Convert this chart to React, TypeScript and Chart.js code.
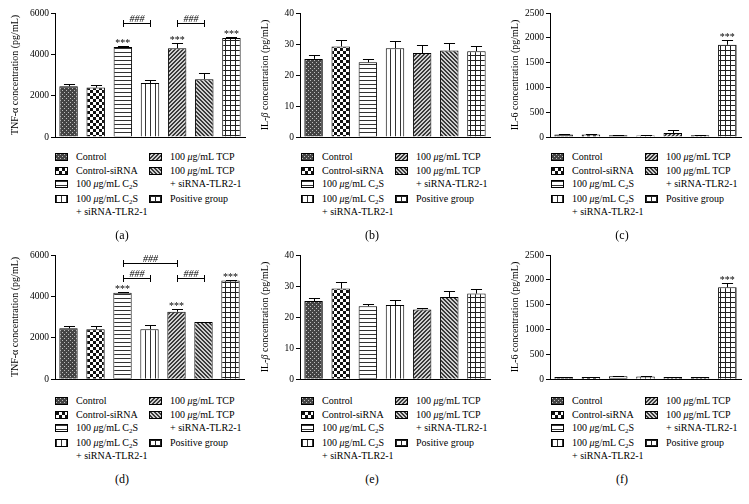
import React, { useEffect, useRef } from "react";
import { Chart, registerables } from "chart.js";
Chart.register(...registerables);

// ---------- data ----------
const categories = [
  "Control",
  "Control-siRNA",
  "100 μg/mL C2S",
  "100 μg/mL C2S + siRNA-TLR2-1",
  "100 μg/mL TCP",
  "100 μg/mL TCP + siRNA-TLR2-1",
  "Positive group",
];

const tnfA = [2450, 2390, 4360, 2610, 4300, 2800, 4790];
const tnfAErr = [130, 140, 60, 150, 270, 280, 50];
const ilbB = [25.2, 29.2, 24.1, 28.6, 27.1, 27.9, 27.7];
const ilbBErr = [1.1, 2.1, 1.1, 2.3, 2.6, 2.3, 1.5];
const il6C = [48, 48, 35, 30, 80, 35, 1860];
const il6CErr = [8, 8, 5, 5, 55, 5, 90];
const tnfD = [2460, 2420, 4180, 2420, 3260, 2760, 4770];
const tnfDErr = [120, 130, 50, 190, 120, 30, 40];
const ilbE = [25.2, 29.2, 23.5, 23.9, 22.5, 26.5, 27.6];
const ilbEErr = [1.1, 2.1, 0.6, 1.5, 0.3, 1.9, 1.5];
const il6F = [45, 45, 60, 55, 45, 45, 1850];
const il6FErr = [5, 5, 5, 5, 5, 5, 90];

const starsA = [2, 4, 6];
const starsB: number[] = [];
const starsC = [6];
const starsD = [2, 4, 6];
const starsE: number[] = [];
const starsF = [6];

// [fromIndex, toIndex, level]
const bracketsA = [[2, 3, 5500], [4, 5, 5500]];
const bracketsD = [[2, 3, 4900], [2, 4, 5600], [4, 5, 4900]];

const tnfTicks = { max: 6000, step: 2000 };
const ilbTicks = { max: 40, step: 10 };
const il6Ticks = { max: 2500, step: 500 };

const panelLabels = ["(a)", "(b)", "(c)", "(d)", "(e)", "(f)"];

// ---------- patterns ----------
function makeTile(w: number, h: number, draw: (c: CanvasRenderingContext2D) => void) {
  const c = document.createElement("canvas");
  c.width = w;
  c.height = h;
  const ctx = c.getContext("2d")!;
  draw(ctx);
  return c;
}

const tiles: HTMLCanvasElement[] = [
  makeTile(4, 4, (c) => {
    c.fillStyle = "#444";
    c.fillRect(0, 0, 4, 4);
    c.fillStyle = "#bdbdbd";
    c.fillRect(0, 0, 1, 1);
    c.fillRect(2, 2, 1, 1);
  }),
  makeTile(6, 6, (c) => {
    c.fillStyle = "#fff";
    c.fillRect(0, 0, 6, 6);
    c.fillStyle = "#111";
    c.fillRect(0, 0, 3, 3);
    c.fillRect(3, 3, 3, 3);
  }),
  makeTile(1, 4, (c) => {
    c.fillStyle = "#fff";
    c.fillRect(0, 0, 1, 4);
    c.fillStyle = "#333";
    c.fillRect(0, 0, 1, 1);
  }),
  makeTile(5, 1, (c) => {
    c.fillStyle = "#fff";
    c.fillRect(0, 0, 5, 1);
    c.fillStyle = "#333";
    c.fillRect(0, 0, 1, 1);
  }),
  makeTile(4, 4, (c) => {
    c.fillStyle = "#cfcfcf";
    c.fillRect(0, 0, 4, 4);
    c.fillStyle = "#3a3a3a";
    for (let i = 0; i < 4; i++) c.fillRect(3 - i, i, 1, 1);
    for (let i = 0; i < 4; i++) c.fillRect((4 - i) % 4, i, 1, 1);
  }),
  makeTile(4, 4, (c) => {
    c.fillStyle = "#cfcfcf";
    c.fillRect(0, 0, 4, 4);
    c.fillStyle = "#3a3a3a";
    for (let i = 0; i < 4; i++) c.fillRect(i, i, 1, 1);
    for (let i = 0; i < 4; i++) c.fillRect((i + 1) % 4, i, 1, 1);
  }),
  makeTile(5, 5, (c) => {
    c.fillStyle = "#fff";
    c.fillRect(0, 0, 5, 5);
    c.fillStyle = "#222";
    c.fillRect(0, 0, 5, 1);
    c.fillRect(0, 0, 1, 5);
  }),
];

const tileUrls = tiles.map((t) => t.toDataURL());

// ---------- annotation plugin ----------
const annotPlugin = {
  id: "annot",
  afterDatasetsDraw(chart: any, _args: any, opts: any) {
    const ctx = chart.ctx as CanvasRenderingContext2D;
    const meta = chart.getDatasetMeta(0);
    const y = chart.scales.y;
    ctx.save();
    ctx.strokeStyle = "#000";
    ctx.fillStyle = "#000";
    ctx.lineWidth = 1;
    meta.data.forEach((bar: any, i: number) => {
      const v = opts.values[i];
      const e = opts.errs[i];
      const by = y.getPixelForValue(v);
      const ty = Math.round(y.getPixelForValue(v + e)) + 0.5;
      const cx = Math.round(bar.x) + 0.5;
      const hw = bar.width * 0.3;
      ctx.beginPath();
      ctx.moveTo(cx, by);
      ctx.lineTo(cx, ty);
      ctx.moveTo(cx - hw, ty);
      ctx.lineTo(cx + hw, ty);
      ctx.stroke();
      if (opts.stars.includes(i)) {
        ctx.font = '10px "Liberation Serif"';
        ctx.textAlign = "center";
        ctx.textBaseline = "alphabetic";
        ctx.fillText("***", bar.x, ty - 1);
      }
    });
    (opts.brackets || []).forEach((b: number[]) => {
      const x1 = Math.round(meta.data[b[0]].x) + 0.5;
      const x2 = Math.round(meta.data[b[1]].x) + 0.5;
      const yy = Math.round(y.getPixelForValue(b[2])) + 0.5;
      ctx.beginPath();
      ctx.moveTo(x1, yy);
      ctx.lineTo(x2, yy);
      ctx.moveTo(x1, yy - 3.5);
      ctx.lineTo(x1, yy + 3.5);
      ctx.moveTo(x2, yy - 3.5);
      ctx.lineTo(x2, yy + 3.5);
      ctx.stroke();
      ctx.font = 'italic 10px "Liberation Serif"';
      ctx.textAlign = "center";
      ctx.textBaseline = "alphabetic";
      ctx.fillText("###", (x1 + x2) / 2, yy - 1.5);
    });
    ctx.restore();
  },
};

// ---------- components ----------
const SERIF = '"Liberation Serif", "Times New Roman", serif';

type PanelCfg = {
  x: number;
  w: number;
  rowY: number;
  left: number;
  right: number;
  bottomPad: number;
  values: number[];
  errs: number[];
  stars: number[];
  brackets: number[][];
  ticks: { max: number; step: number };
};

function ChartPanel({ cfg }: { cfg: PanelCfg }) {
  const ref = useRef<HTMLCanvasElement>(null);
  useEffect(() => {
    const ctx = ref.current!.getContext("2d")!;
    const patterns = tiles.map((t) => ctx.createPattern(t, "repeat")!);
    const chart = new Chart(ref.current!, {
      type: "bar",
      data: {
        labels: categories,
        datasets: [
          {
            data: cfg.values,
            backgroundColor: patterns as any,
            borderColor: "#000",
            borderWidth: 1,
            barPercentage: 0.68,
            categoryPercentage: 1,
          },
        ],
      },
      options: {
        responsive: false,
        animation: false,
        devicePixelRatio: 1,
        layout: {
          padding: { left: 0, top: 13, right: cfg.x + cfg.w - cfg.right, bottom: cfg.bottomPad },
        },
        plugins: {
          legend: { display: false },
          tooltip: { enabled: false },
          annot: { values: cfg.values, errs: cfg.errs, stars: cfg.stars, brackets: cfg.brackets },
        } as any,
        scales: {
          x: {
            type: "category",
            offset: true,
            grid: { display: true, drawOnChartArea: false, drawTicks: false, color: "#000" },
            border: { display: true, color: "#000", width: 1 },
            ticks: { display: false },
            afterFit: (s: any) => {
              s.height = 0;
            },
          },
          y: {
            min: 0,
            max: cfg.ticks.max,
            ticks: {
              stepSize: cfg.ticks.step,
              color: "#000",
              font: { family: "Liberation Serif", size: 9.5 },
              padding: 2,
              callback: (v: any) => String(v),
            },
            grid: { drawOnChartArea: false, tickLength: 4, color: "#000" },
            border: { display: true, color: "#000", width: 1 },
            afterFit: (s: any) => {
              s.width = cfg.left - cfg.x;
            },
          },
        },
      },
      plugins: [annotPlugin as any],
    });
    return () => chart.destroy();
  }, []);
  return (
    <canvas
      ref={ref}
      width={cfg.w}
      height={145}
      style={{ position: "absolute", left: cfg.x, top: cfg.rowY, width: cfg.w, height: 145 }}
    />
  );
}

function Rich({ text }: { text: string }) {
  const parts = text.split(/(μ|C2S|β)/);
  return (
    <>
      {parts.map((p, i) =>
        p === "μ" || p === "β" ? (
          <i key={i}>{p}</i>
        ) : p === "C2S" ? (
          <span key={i}>
            C<sub style={{ fontSize: "7px", verticalAlign: "-2px", lineHeight: 0 }}>2</sub>S
          </span>
        ) : (
          <span key={i}>{p}</span>
        )
      )}
    </>
  );
}

function Legend({ sw1, sw2, baseY, labelX, label }: { sw1: number; sw2: number; baseY: number; labelX: number; label: string }) {
  const rowOff = [0, 14, 27, 42, 55];
  const split = (s: string) => {
    const k = s.indexOf(" + ");
    return k < 0 ? [s] : [s.slice(0, k), s.slice(k + 1)];
  };
  const col1 = [
    { idx: 0, row: 0 },
    { idx: 1, row: 1 },
    { idx: 2, row: 2 },
    { idx: 3, row: 3 },
  ];
  const col2 = [
    { idx: 4, row: 0 },
    { idx: 5, row: 1 },
    { idx: 6, row: 3 },
  ];
  const items: any[] = [];
  const add = (col: { idx: number; row: number }[], sx: number) => {
    col.forEach(({ idx, row }) => {
      const lines = split(categories[idx]);
      const cy = baseY + rowOff[row];
      items.push(
        <div
          key={"s" + idx}
          style={{
            position: "absolute",
            left: sx,
            top: cy - 4,
            width: 13,
            height: 8,
            boxSizing: "border-box",
            border: "1px solid #000",
            backgroundImage: `url(${tileUrls[idx]})`,
          }}
        />
      );
      lines.forEach((ln, j) => {
        items.push(
          <div
            key={"t" + idx + "_" + j}
            style={{
              position: "absolute",
              left: sx + 21,
              top: baseY + rowOff[row + j] - 6,
              height: 12,
              lineHeight: "12px",
              fontSize: "10px",
              fontFamily: SERIF,
              whiteSpace: "nowrap",
              color: "#000",
            }}
          >
            <Rich text={ln} />
          </div>
        );
      });
    });
  };
  add(col1, sw1);
  add(col2, sw2);
  items.push(
    <div
      key="lbl"
      style={{
        position: "absolute",
        left: labelX,
        top: baseY + 78,
        transform: "translate(-50%, -50%)",
        fontSize: "12px",
        fontFamily: SERIF,
        color: "#000",
      }}
    >
      {label}
    </div>
  );
  return <>{items}</>;
}

function AxisTitle({ x, y, text }: { x: number; y: number; text: string }) {
  return (
    <div
      style={{
        position: "absolute",
        left: x,
        top: y,
        transform: "translate(-50%, -50%) rotate(-90deg)",
        fontSize: "10px",
        fontFamily: SERIF,
        whiteSpace: "nowrap",
        color: "#000",
      }}
    >
      <Rich text={text} />
    </div>
  );
}

const panels: PanelCfg[] = [
  { x: 0, w: 250, rowY: 0, left: 55, right: 245, bottomPad: 8, values: tnfA, errs: tnfAErr, stars: starsA, brackets: bracketsA, ticks: tnfTicks },
  { x: 250, w: 250, rowY: 0, left: 300, right: 490, bottomPad: 8, values: ilbB, errs: ilbBErr, stars: starsB, brackets: [], ticks: ilbTicks },
  { x: 500, w: 249, rowY: 0, left: 550, right: 741, bottomPad: 8, values: il6C, errs: il6CErr, stars: starsC, brackets: [], ticks: il6Ticks },
  { x: 0, w: 250, rowY: 242, left: 55, right: 244, bottomPad: 7, values: tnfD, errs: tnfDErr, stars: starsD, brackets: bracketsD, ticks: tnfTicks },
  { x: 250, w: 250, rowY: 242, left: 300, right: 490, bottomPad: 7, values: ilbE, errs: ilbEErr, stars: starsE, brackets: [], ticks: ilbTicks },
  { x: 500, w: 249, rowY: 242, left: 550, right: 741, bottomPad: 7, values: il6F, errs: il6FErr, stars: starsF, brackets: [], ticks: il6Ticks },
];

const axisTitles = [
  "TNF-α concentration (pg/mL)",
  "IL-β concentration (pg/mL)",
  "IL-6 concentration (pg/mL)",
];

export default function App() {
  return (
    <div
      style={{
        position: "absolute",
        left: 0,
        top: 0,
        width: 749,
        height: 504,
        background: "#fff",
        overflow: "hidden",
      }}
    >
      {panels.map((p, i) => (
        <ChartPanel key={i} cfg={p} />
      ))}
      {panels.map((p, i) => (
        <AxisTitle key={"at" + i} x={p.x + 14} y={p.rowY + 75} text={axisTitles[i % 3]} />
      ))}
      {panels.map((p, i) => {
        const off = i % 3 === 0 ? 55 : 51;
        return (
          <Legend
            key={"lg" + i}
            sw1={p.x + off}
            sw2={p.x + off + 94}
            baseY={p.rowY === 0 ? 157 : 401}
            labelX={p.x + 122}
            label={panelLabels[i]}
          />
        );
      })}
    </div>
  );
}
